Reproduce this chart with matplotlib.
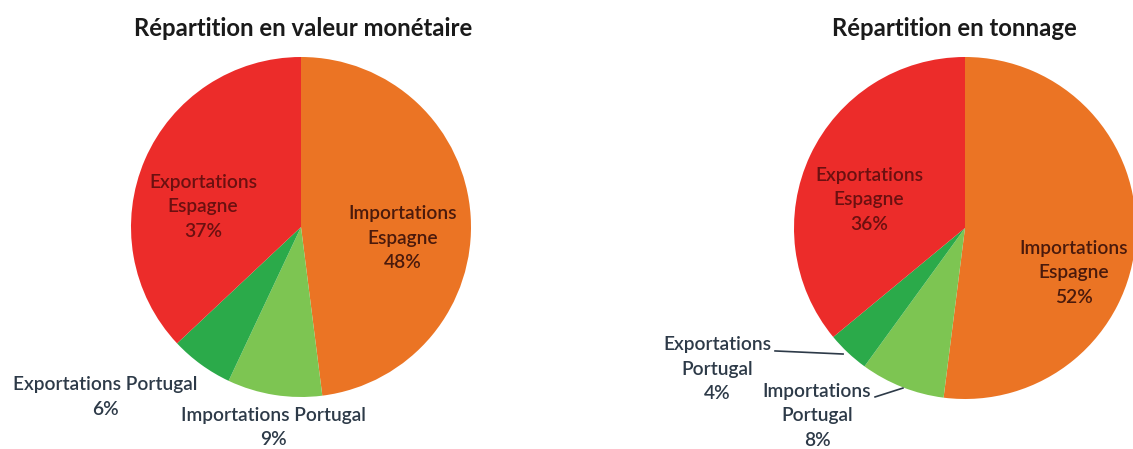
import matplotlib
matplotlib.use("Agg")
import matplotlib.pyplot as plt

plt.rcParams['font.family'] = ['Lato', 'DejaVu Sans']

# Data
categories = ["Importations Espagne", "Importations Portugal",
              "Exportations Portugal", "Exportations Espagne"]
valeur = [48, 9, 6, 37]
tonnage = [52, 8, 4, 36]
titles = ["Répartition en valeur monétaire", "Répartition en tonnage"]
colors = ["#EB7424", "#7DC552", "#2BAA4A", "#EC2C2A"]

W, H = 1133, 449
fig = plt.figure(figsize=(W / 100, H / 100), dpi=100)
fig.patch.set_facecolor("white")

inside_col = ["#4a1a0c", None, None, "#6b1010"]
out_col = "#2d3a48"


def add_pie(cx, cy, r, vals, title, title_xy, label_pos, leaders):
    ax = fig.add_axes([(cx - r) / W, 1 - (cy + r) / H, 2 * r / W, 2 * r / H])
    ax.pie(vals, colors=colors, startangle=90, counterclock=False,
           wedgeprops=dict(linewidth=0))
    ax.set_xlim(-1, 1)
    ax.set_ylim(-1, 1)
    ax.set_aspect('auto')
    ax.axis('off')
    for i, (cat, v) in enumerate(zip(categories, vals)):
        x, y, txt = label_pos[i]
        col = inside_col[i] if inside_col[i] else out_col
        ax.text(x, y, txt.format(v=v), ha='center', va='center',
                fontsize=13.8, color=col, linespacing=1.55, clip_on=False,
                fontweight='semibold')
    for (x0, y0, x1, y1) in leaders:
        ax.plot([x0, x1], [y0, y1], color="#2d3a48", lw=1.2, clip_on=False)
    fig.text(title_xy[0] / W, 1 - title_xy[1] / H, title, ha='center',
             va='center', fontsize=17.2, fontweight='bold', color="#1a1a1a")


add_pie(301, 227, 170, valeur, titles[0], (303, 29),
        [(0.60, -0.065, "Importations\nEspagne\n{v}%"),
         (-0.165, -1.179, "Importations Portugal\n{v}%"),
         (-1.153, -1.0, "Exportations Portugal\n{v}%"),
         (-0.576, 0.118, "Exportations\nEspagne\n{v}%")],
        [])

add_pie(965, 228, 171, tonnage, titles[1], (954, 29),
        [(0.637, -0.263, "Importations\nEspagne\n{v}%"),
         (-0.865, -1.099, "Importations\nPortugal\n{v}%"),
         (-1.45, -0.825, "Exportations\nPortugal\n{v}%"),
         (-0.561, 0.164, "Exportations\nEspagne\n{v}%")],
        [(-1.111, -0.719, -0.713, -0.737),
         (-0.526, -0.988, -0.363, -0.936)])

fig.savefig("out.png", dpi=100, facecolor="white")
